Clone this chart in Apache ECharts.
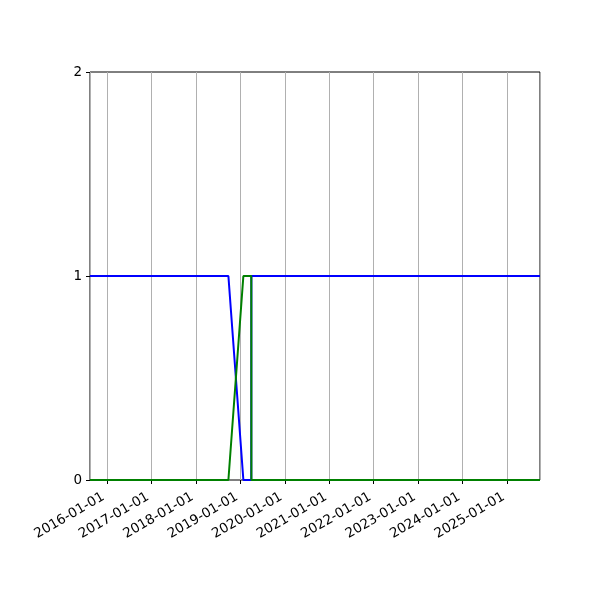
<!DOCTYPE html>
<html><head><meta charset="utf-8">
<script src="https://cdn.jsdelivr.net/npm/echarts@6/dist/echarts.min.js"></script>
<style>html,body{margin:0;padding:0;background:#fff}#c{width:600px;height:600px}</style>
</head><body><div id="c"></div>
<script>
const dates = ['2015-08-15','2018-09-25','2019-01-26','2019-04-01','2019-04-02','2025-09-28'];
const blueValues = [1, 1, 0, 0, 1, 1];
const greenValues = [0, 0, 1, 1, 0, 0];
const yTicks = [0, 1, 2];
const xMin = '2015-08-15';
const xMax = '2025-09-28';

const pair = (vals) => dates.map((d, i) => [d, vals[i]]);
const chart = echarts.init(document.getElementById('c'));
const YEAR = 365 * 24 * 3600 * 1000;
chart.setOption({
  animation: false,
  grid: {left: 90, right: 60, top: 72, bottom: 120, show: true, borderColor: '#000', borderWidth: 1, backgroundColor: 'transparent'},
  xAxis: {
    type: 'time', min: xMin, max: xMax,
    minInterval: YEAR, maxInterval: YEAR,
    axisLine: {show: false},
    axisTick: {show: true, inside: false, length: 4, lineStyle: {color: '#000'}},
    minorTick: {show: false},
    splitLine: {show: true, lineStyle: {color: '#b0b0b0', width: 1}},
    axisLabel: {
      rotate: 30, color: '#000', fontFamily: 'DejaVu Sans', fontSize: 13.5, margin: 14,
      padding: [0, 4, 0, 0],
      showMinLabel: false, showMaxLabel: false,
      formatter: (v) => echarts.time.format(v, '{yyyy}-{MM}-{dd}', false)
    }
  },
  yAxis: {
    type: 'value', min: yTicks[0], max: yTicks[yTicks.length - 1], interval: 1,
    axisLine: {show: false},
    axisTick: {show: true, inside: false, length: 4, lineStyle: {color: '#000'}},
    splitLine: {show: false},
    axisLabel: {color: '#000', fontFamily: 'DejaVu Sans', fontSize: 13.5, margin: 8}
  },
  series: [
    {type: 'line', data: pair(greenValues), showSymbol: false, lineStyle: {color: '#008000', width: 2}, itemStyle: {color: '#008000'}, z: 3},
    {type: 'line', data: pair(blueValues), showSymbol: false, lineStyle: {color: '#0000ff', width: 2}, itemStyle: {color: '#0000ff'}, z: 2}
  ]
});
</script></body></html>
